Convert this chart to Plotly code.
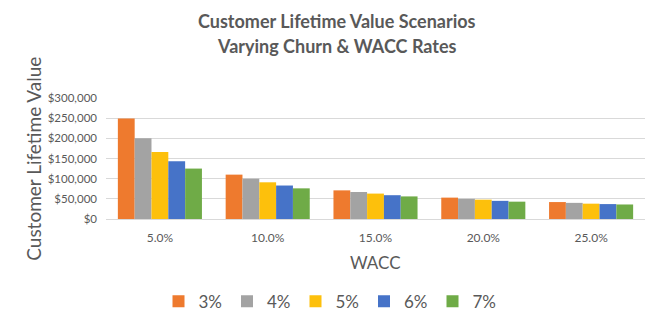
import plotly.graph_objects as go

categories = ["5.0%", "10.0%", "15.0%", "20.0%", "25.0%"]
series_names = ["3%", "4%", "5%", "6%", "7%"]
v3 = [249000, 110000, 71000, 53000, 42000]
v4 = [200000, 100000, 67000, 50000, 40000]
v5 = [166000, 91000, 63000, 48000, 38000]
v6 = [143000, 83000, 59000, 45000, 37000]
v7 = [125000, 76000, 56000, 43000, 36000]
values = [v3, v4, v5, v6, v7]
colors = ["#EE7A2E", "#A3A3A3", "#FDC00C", "#4673C8", "#6FAB47"]
y_ticks = [0, 50000, 100000, 150000, 200000, 250000, 300000]
y_tick_text = ["$0", "$50,000", "$100,000", "$150,000", "$200,000", "$250,000", "$300,000"]

FONT = "Lato"
GRAY = "#595959"

fig = go.Figure()
for name, vals, c in zip(series_names, values, colors):
    fig.add_trace(go.Bar(x=categories, y=vals, name=name,
                         marker=dict(color=c, line=dict(width=0))))

title_x = (337 - 106) / 539

fig.update_layout(
    width=660, height=328,
    margin=dict(l=106, r=15, t=98, b=109),
    paper_bgcolor="white", plot_bgcolor="white",
    barmode="group", bargap=0.22, bargroupgap=0,
    font=dict(family=FONT, color=GRAY),
    xaxis=dict(showgrid=False, showline=True, linecolor="#D9D9D9", linewidth=1,
               ticks="", tickfont=dict(size=12, color=GRAY), ticklabelstandoff=8),
    yaxis=dict(range=[0, 300000], tickvals=y_ticks, ticktext=y_tick_text,
               showgrid=True, gridcolor="#D9D9D9", gridwidth=1,
               zeroline=False, showline=False, ticks="",
               tickfont=dict(size=11.5, color=GRAY), ticklabelstandoff=8),
    legend=dict(orientation="h", xref="container", yref="container",
                x=0.5, xanchor="center", y=0.08, yanchor="middle",
                font=dict(size=17, color=GRAY), itemwidth=30,
                traceorder="normal"),
    annotations=[
        dict(text="<b>Customer Lifetime Value Scenarios</b>", xref="paper", yref="paper",
             x=title_x, y=(219 - 21) / 121, xanchor="center", yanchor="middle",
             showarrow=False, font=dict(family=FONT, size=18, color=GRAY)),
        dict(text="<b>Varying Churn &amp; WACC Rates</b>", xref="paper", yref="paper",
             x=title_x, y=(219 - 46) / 121, xanchor="center", yanchor="middle",
             showarrow=False, font=dict(family=FONT, size=18, color=GRAY)),
        dict(text="Customer Lifetime Value", xref="paper", yref="paper",
             x=-0.135, y=0.5, xanchor="center", yanchor="middle",
             textangle=-90, showarrow=False,
             font=dict(family=FONT, size=19, color=GRAY)),
        dict(text="WACC", xref="paper", yref="paper",
             x=0.5, y=-0.36, xanchor="center", yanchor="middle",
             showarrow=False, font=dict(family=FONT, size=17, color=GRAY)),
    ],
)

fig.write_html("out.html")
